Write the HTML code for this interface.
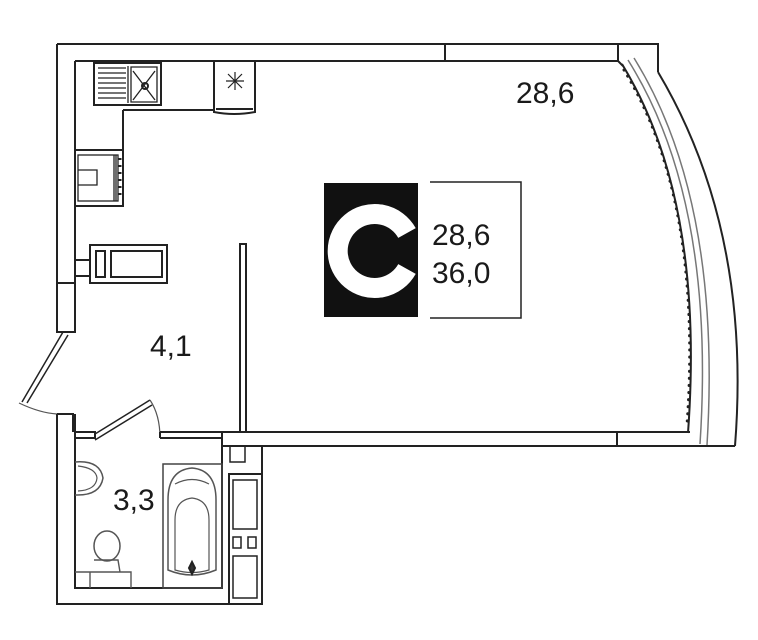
<!DOCTYPE html>
<html><head><meta charset="utf-8"><style>
html,body{margin:0;padding:0;background:#fff;width:758px;height:640px;overflow:hidden}
svg{display:block}
text{font-family:"Liberation Sans",sans-serif;fill:#1a1a1a}
</style></head><body>
<svg width="758" height="640" viewBox="0 0 758 640" xmlns="http://www.w3.org/2000/svg" fill="none" stroke="#222" stroke-width="2">
<!-- top wall -->
<path d="M57 44 H658 V72"/>
<path d="M75 61 H618"/>
<path d="M445 44 V61"/>
<path d="M618 44 V61 L623 66"/>
<!-- curved outer -->
<path d="M658 72 Q752 230 735 446"/>
<!-- curved inner window -->
<path d="M622 64 Q705 200 688 433" stroke="#222"/>
<path d="M628 60 Q716 200 700 444" stroke="#777" stroke-width="1.5"/>
<path d="M634 58 Q722 200 707 445" stroke="#777" stroke-width="1.5"/>
<path d="M624 70 Q703 200 687 425" stroke="#222" stroke-width="3" stroke-linecap="round" stroke-dasharray="0.1 7"/>
<!-- bottom wall main room -->
<path d="M222 432 H690 M222 446 H735 M222 432 V446 M617 432 V446"/>
<!-- left wall -->
<path d="M57 44 V332 H75 V61"/>
<path d="M57 283 H75"/>
<!-- doors -->
<path d="M63 332 L22 402 M68 335 L27 403" stroke-width="1.5"/>
<path d="M19 403 Q40 413 57 414" stroke="#555" stroke-width="1.2"/>
<path d="M57 414 V604 H262 V446"/>
<path d="M75 414 V588 H222 V446"/>
<path d="M57 414 H73 V432 M75 438 H95 V432 H75"/>
<path d="M95 434 L150 400 M95 440 L152 405" stroke-width="1.5"/>
<path d="M150 400 Q160 415 160 438" stroke="#555" stroke-width="1.2"/>
<path d="M160 432 H222 M160 438 H222 M160 432 V438"/>
<!-- partition -->
<rect x="240" y="244" width="6" height="188"/>
<!-- kitchen -->
<rect x="94" y="63" width="67" height="42"/>
<path d="M98 68 H126 M98 73 H126 M98 78 H126 M98 83 H126 M98 88 H126 M98 93 H126 M98 98 H126 M128 66 V103 M131 67 H157 V102 H131 Z M133 71 L155 100 M155 71 L133 100" stroke-width="1.3"/>
<circle cx="145" cy="86" r="3"/>
<path d="M123 110 H215 M123 110 V150"/>
<path d="M214 61 V112 Q234 116 255 112 V61"/>
<path d="M216 109 H253"/>
<path d="M235 72 V90 M226 81 H244 M228 74 L242 88 M242 74 L228 88" stroke-width="1.2"/>
<rect x="75" y="150" width="48" height="56"/>
<rect x="78" y="155" width="40" height="46" stroke-width="1.3"/>
<path d="M78 170 H97 V185 H78 M114 155 V201 M116 155 V201" stroke-width="1.3"/>
<path d="M120 158 V200" stroke-width="3" stroke-dasharray="2 5"/>
<rect x="90" y="245" width="77" height="38"/>
<rect x="96" y="251" width="9" height="26"/>
<rect x="111" y="251" width="51" height="26"/>
<path d="M75 260 H90 M75 276 H90"/>
<!-- bathroom fixtures -->
<path d="M75 462 Q100 460 103 478 Q100 496 75 495" stroke="#555" stroke-width="1.5"/>
<path d="M78 466 Q96 468 97 478 Q96 490 78 491" stroke="#555" stroke-width="1.2"/>
<rect x="163" y="464" width="59" height="124" stroke="#444" stroke-width="1.5"/>
<path d="M168 500 Q168 470 192 468 Q216 470 216 500 V570 Q192 580 168 570 Z" stroke="#555" stroke-width="1.5"/>
<path d="M175 520 Q175 500 192 498 Q209 500 209 520 V570 Q192 575 175 570 Z" stroke="#555" stroke-width="1.2"/>
<path d="M175 484 Q192 475 209 484" stroke="#555" stroke-width="1.2"/>
<path d="M192 562 L195 568 L192 574 L189 568 Z" fill="#333"/>
<ellipse cx="107" cy="546" rx="13" ry="15" stroke="#555" stroke-width="1.5"/>
<path d="M94 560 H118 L120 572 H131 V588 M90 572 H131 M90 572 V588 M75 572 H90" stroke="#555" stroke-width="1.4"/>
<path d="M222 446 H245 V462 H230 V446" stroke-width="1.5"/>
<rect x="229" y="474" width="33" height="130"/>
<rect x="233" y="480" width="24" height="49" stroke-width="1.5"/>
<rect x="233" y="537" width="8" height="11" stroke-width="1.5"/>
<rect x="248" y="537" width="8" height="11" stroke-width="1.5"/>
<rect x="233" y="556" width="24" height="42" stroke-width="1.5"/>
<!-- logo -->
<rect x="324" y="183" width="94" height="134" fill="#111" stroke="none"/>
<path d="M407 233 A37 37 0 1 0 407 269" stroke="#fff" stroke-width="20"/>
<path d="M430 182 H521 V318 H430" stroke-width="1.5"/>
<g stroke="none">
<text x="432" y="245" font-size="30">28,6</text>
<text x="432" y="283" font-size="30">36,0</text>
<text x="516" y="103" font-size="30">28,6</text>
<text x="150" y="356" font-size="30">4,1</text>
<text x="113" y="510" font-size="30">3,3</text>
</g>
</svg>
</body></html>
